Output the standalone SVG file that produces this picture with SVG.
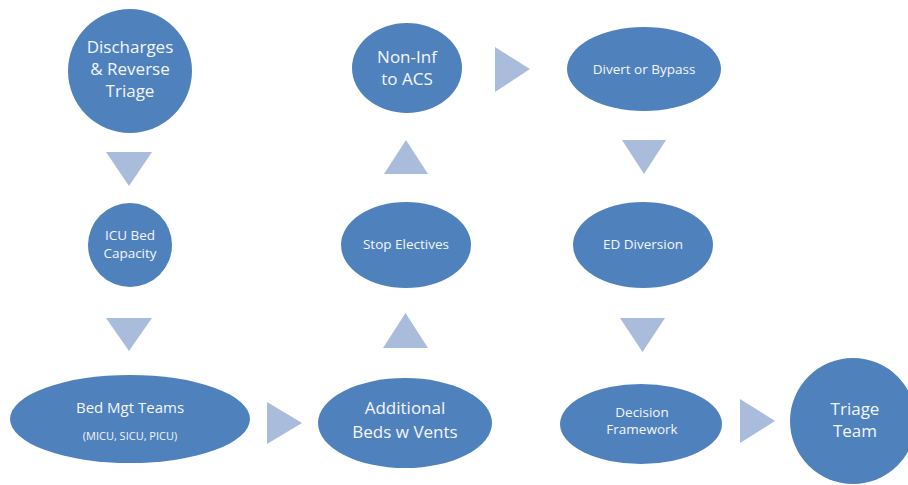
<svg xmlns="http://www.w3.org/2000/svg" width="908" height="485" viewBox="0 0 908 485">
  <style>
    .node { fill: #4F81BD; }
    .arrow { fill: #AABCDC; }
    text { font-family: "Open Sans", "Liberation Sans", sans-serif; fill: #F4F6FA; text-anchor: middle; }
    .lg { font-size: 17px; }
    .md { font-size: 15px; }
    .sm { font-size: 13.5px; }
    .xs { font-size: 11px; }
  </style>
  <rect width="908" height="485" fill="#FFFFFF"/>

  <!-- chevron connectors -->
  <g id="connectors">
    <polygon class="arrow" points="106,152 152,152 129,186"/>
    <polygon class="arrow" points="106,318 152,318 129,351"/>
    <polygon class="arrow" points="267,402 302,423 267,444"/>
    <polygon class="arrow" points="383,348 428,348 405.5,313"/>
    <polygon class="arrow" points="384,174 428,174 406,140"/>
    <polygon class="arrow" points="495,47 530,69 495,92"/>
    <polygon class="arrow" points="622,140 666,140 644,174"/>
    <polygon class="arrow" points="620,318 665,318 642.5,352"/>
    <polygon class="arrow" points="740,399 775,421 740,443"/>
  </g>

  <g id="discharges">
    <circle class="node" cx="130" cy="71" r="62"/>
    <text class="lg" x="130" y="53">Discharges</text>
    <text class="lg" x="130" y="75">&amp; Reverse</text>
    <text class="lg" x="130" y="97">Triage</text>
  </g>

  <g id="icu-bed-capacity">
    <circle class="node" cx="130" cy="245" r="42"/>
    <text class="sm" x="130" y="240">ICU Bed</text>
    <text class="sm" x="130" y="258">Capacity</text>
  </g>

  <g id="bed-mgt-teams">
    <ellipse class="node" cx="130" cy="419" rx="120" ry="44"/>
    <text class="md" x="130" y="413">Bed Mgt Teams</text>
    <text class="xs" x="130" y="440">(MICU, SICU, PICU)</text>
  </g>

  <g id="additional-beds">
    <ellipse class="node" cx="405" cy="423" rx="87" ry="45"/>
    <text class="lg" x="405" y="414">Additional</text>
    <text class="lg" x="405" y="438">Beds w Vents</text>
  </g>

  <g id="stop-electives">
    <ellipse class="node" cx="406" cy="245" rx="65" ry="43"/>
    <text class="sm" x="406" y="249">Stop Electives</text>
  </g>

  <g id="non-inf-to-acs">
    <ellipse class="node" cx="407" cy="68" rx="55" ry="45"/>
    <text class="lg" x="407" y="63">Non-Inf</text>
    <text class="lg" x="407" y="85">to ACS</text>
  </g>

  <g id="divert-or-bypass">
    <ellipse class="node" cx="644" cy="69" rx="77" ry="42"/>
    <text class="sm" x="644" y="74">Divert or Bypass</text>
  </g>

  <g id="ed-diversion">
    <ellipse class="node" cx="643" cy="245" rx="70" ry="43"/>
    <text class="sm" x="643" y="249">ED Diversion</text>
  </g>

  <g id="decision-framework">
    <ellipse class="node" cx="641" cy="424" rx="81" ry="40"/>
    <text class="sm" x="642" y="417">Decision</text>
    <text class="sm" x="642" y="434">Framework</text>
  </g>

  <g id="triage-team">
    <circle class="node" cx="853" cy="421" r="63"/>
    <text class="lg" x="855" y="415">Triage</text>
    <text class="lg" x="855" y="437">Team</text>
  </g>
</svg>
